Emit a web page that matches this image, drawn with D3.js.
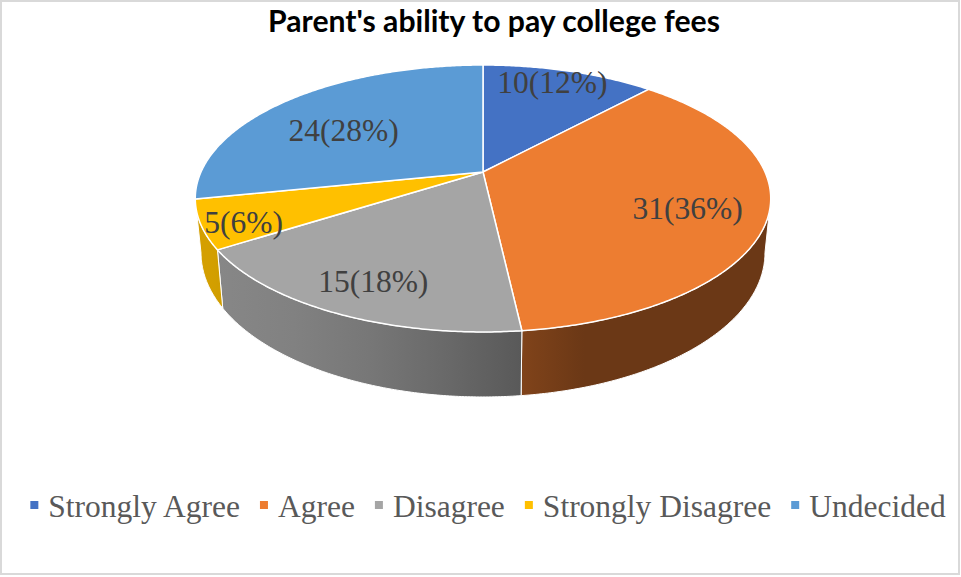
<!DOCTYPE html>
<html>
<head>
<meta charset="utf-8">
<script src="https://cdn.jsdelivr.net/npm/d3@7"></script>
<style>
  html, body { margin: 0; padding: 0; background: #ffffff; }
  svg { display: block; }
</style>
</head>
<body>
<svg id="chart" width="961" height="577"></svg>
<script>
// ---- data ----
const categories = ["Strongly Agree", "Agree", "Disagree", "Strongly Disagree", "Undecided"];
const counts = [10, 31, 15, 5, 24];
const percentLabels = ["12%", "36%", "18%", "6%", "28%"];
const colors = ["#4472C4", "#ED7D31", "#A5A5A5", "#FFC000", "#5B9BD5"];
const chartTitle = "Parent's ability to pay college fees";

// ---- canvas ----
const W = 961, H = 577;
const svg = d3.select("#chart");
svg.append("rect")
  .attr("x", 1).attr("y", 1).attr("width", W - 3).attr("height", H - 4)
  .attr("fill", "#ffffff").attr("stroke", "#d9d9d9").attr("stroke-width", 2);

// ---- title ----
const titleText = svg.append("text")
  .attr("x", 494).attr("y", 32)
  .attr("text-anchor", "middle")
  .attr("font-family", "Lato, 'Open Sans', sans-serif")
  .attr("font-weight", "bold")
  .attr("font-size", 25)
  .attr("fill", "#000000")
  .text(chartTitle);
{
  const w = titleText.node().getComputedTextLength();
  titleText.attr("font-size", 25 * 452 / w);
}

// ---- pie layout: clockwise from 12 o'clock, in data order ----
const arcs = d3.pie().sort(null).value(d => d)(counts);

// ---- tilted disc with perspective ----
const cx = 483, cy = 172;       // centre of the top face
const R = 282, A = 128.2;       // horizontal radius, vertical extent factor
const persp = 0.1985;           // foreshortening of the far side
const depth = 52.1;             // thickness of the disc
const shrink = 0.98;            // slight narrowing of the lower rim

function topPt(theta, r = 1) {
  const u = r * Math.sin(theta), v = r * Math.cos(theta);
  const k = 1 / (1 + persp * v);
  return [cx + R * u * k, cy - A * v * k];
}
function bottomPt(theta) {
  const v = Math.cos(theta);
  const [x, y] = topPt(theta);
  return [cx + (x - cx) * shrink, y + depth / (1 + persp * v)];
}
function samples(a0, a1) {
  const n = Math.max(2, Math.ceil((a1 - a0) / (Math.PI / 360)));
  return d3.range(n + 1).map(i => a0 + (a1 - a0) * i / n);
}
// side walls get darker toward the right
function shade(base, theta) {
  const f = 0.45 + 0.38 * Math.max(0, Math.cos(theta - 250 * Math.PI / 180));
  const c = d3.rgb(base);
  return d3.rgb(c.r * f, c.g * f, c.b * f).formatHex();
}

const line = d3.line().curve(d3.curveLinearClosed);
const defs = svg.append("defs");
const gWalls = svg.append("g");
const gTops = svg.append("g");
const gLabels = svg.append("g");

// ---- front walls (between the left and right silhouettes) ----
const frontStart = Math.acos(-persp);
const frontEnd = 2 * Math.PI - frontStart;
arcs.forEach((a, i) => {
  const a0 = Math.max(a.startAngle, frontStart);
  const a1 = Math.min(a.endAngle, frontEnd);
  if (a1 - a0 < 0.01) return;
  const ts = samples(a0, a1);
  const pts = ts.map(t => topPt(t)).concat(ts.slice().reverse().map(t => bottomPt(t)));

  const x1 = topPt(a0)[0], x2 = topPt(a1)[0];
  const grad = defs.append("linearGradient")
    .attr("id", "wall" + i)
    .attr("gradientUnits", "userSpaceOnUse")
    .attr("x1", x1).attr("y1", 0).attr("x2", x2).attr("y2", 0);
  d3.range(5).forEach(j => {
    const t = a0 + (a1 - a0) * j / 4;
    grad.append("stop").attr("offset", j / 4).attr("stop-color", shade(colors[i], t));
  });

  gWalls.append("path")
    .attr("d", line(pts))
    .attr("fill", `url(#wall${i})`)
    .attr("stroke", "#ffffff")
    .attr("stroke-width", 1)
    .attr("stroke-linejoin", "round");
});

// ---- top faces ----
arcs.forEach((a, i) => {
  const pts = [[cx, cy]].concat(samples(a.startAngle, a.endAngle).map(t => topPt(t)));
  gTops.append("path")
    .attr("d", line(pts))
    .attr("fill", colors[i])
    .attr("stroke", "#ffffff")
    .attr("stroke-width", 1.5)
    .attr("stroke-linejoin", "round");
});

// ---- data labels ----
const labelR = 0.78;
const labelNudge = [[0, -9], [-15, 4], [0, 4], [-23, 10], [16, 16]];
arcs.forEach((a, i) => {
  const mid = (a.startAngle + a.endAngle) / 2;
  const [x, y] = topPt(mid, labelR);
  gLabels.append("text")
    .attr("x", x + labelNudge[i][0])
    .attr("y", y + labelNudge[i][1])
    .attr("dy", "0.35em")
    .attr("text-anchor", "middle")
    .attr("font-family", "'Liberation Serif', 'Times New Roman', serif")
    .attr("font-size", 31.5)
    .attr("fill", "#404040")
    .text(`${counts[i]}(${percentLabels[i]})`);
});

// ---- legend ----
const legend = svg.append("g");
const sq = 8, gapSq = 10, gapItem = 20, baseY = 517;
let xPos = 0;
categories.forEach((c, i) => {
  const item = legend.append("g").attr("transform", `translate(${xPos},0)`);
  item.append("rect")
    .attr("x", 0).attr("y", baseY - 16).attr("width", sq).attr("height", sq)
    .attr("fill", colors[i]);
  const t = item.append("text")
    .attr("x", sq + gapSq).attr("y", baseY)
    .attr("font-family", "'Liberation Serif', 'Times New Roman', serif")
    .attr("font-size", 31.5)
    .attr("fill", "#595959")
    .text(c);
  xPos += sq + gapSq + t.node().getComputedTextLength() + gapItem;
});
const legendW = xPos - gapItem;
legend.attr("transform", `translate(${488 - legendW / 2},0)`);
</script>
</body>
</html>
